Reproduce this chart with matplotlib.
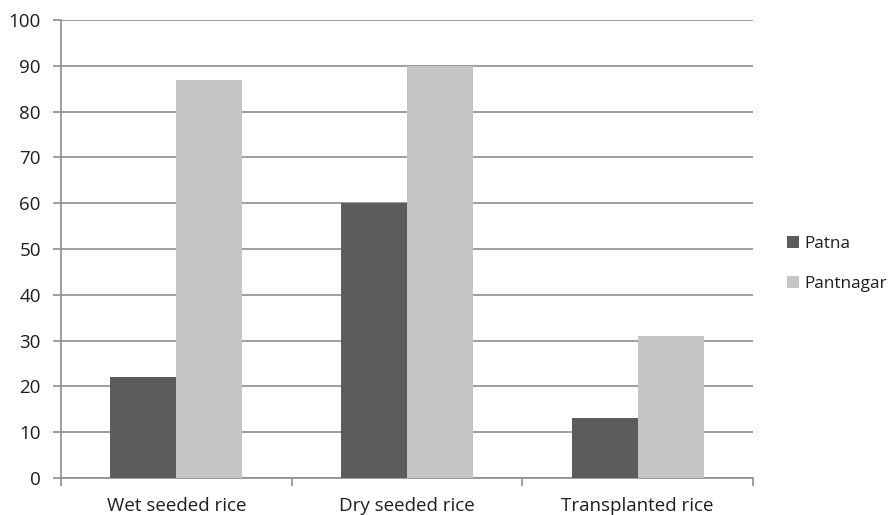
import matplotlib
matplotlib.use("Agg")
import matplotlib.pyplot as plt
import numpy as np
from matplotlib.patches import Patch

categories = ["Wet seeded rice", "Dry seeded rice", "Transplanted rice"]
patna = [22, 60, 13]
pantnagar = [87, 90, 31]
series_names = ["Patna", "Pantnagar"]
y_ticks = [0, 10, 20, 30, 40, 50, 60, 70, 80, 90, 100]

plt.rcParams["font.family"] = ["Open Sans", "DejaVu Sans"]

dark = "#5b5c5e"
light = "#c4c5c7"
grid_col = "#8e8e90"
text_col = "#1e1e1e"

fig = plt.figure(figsize=(8.94, 5.15), dpi=100)
ax = fig.add_axes([61 / 894, 1 - 478 / 515, (753 - 61) / 894, (478 - 20) / 515])

x = np.arange(len(categories))
w = 0.286
ax.bar(x - w / 2, patna, width=w, color=dark, zorder=3)
ax.bar(x + w / 2, pantnagar, width=w, color=light, zorder=3)

ax.set_xlim(-0.5, len(categories) - 0.5)
ax.set_ylim(0, 100)
ax.set_yticks(y_ticks)
ax.set_yticklabels([str(v) for v in y_ticks], fontsize=13.5, color=text_col)
ax.yaxis.grid(True, color=grid_col, linewidth=1.2, zorder=0)
ax.set_axisbelow(True)

# category labels centred, tick marks on category boundaries
ax.set_xticks(x)
ax.set_xticklabels(categories, fontsize=13.5, color=text_col)
ax.tick_params(axis="x", which="major", length=0, pad=14)
ax.set_xticks(np.arange(-0.5, len(categories)), minor=True)
ax.tick_params(axis="x", which="minor", length=5.5, color=grid_col, width=1.2, direction="out")
ax.tick_params(axis="y", length=5.5, color=grid_col, width=1.2, pad=9)

for s in ["top", "right"]:
    ax.spines[s].set_visible(False)
for s in ["left", "bottom"]:
    ax.spines[s].set_color(grid_col)
    ax.spines[s].set_linewidth(1.2)

handles = [Patch(facecolor=dark), Patch(facecolor=light)]
fig.legend(handles, series_names, loc="center left", bbox_to_anchor=(787 / 894, 1 - 264 / 515),
           frameon=False, fontsize=12.3, handlelength=0.7, handleheight=0.7,
           handletextpad=0.3, labelspacing=1.4, labelcolor=text_col,
           borderaxespad=0, borderpad=0)

fig.savefig("out.png", dpi=100)
